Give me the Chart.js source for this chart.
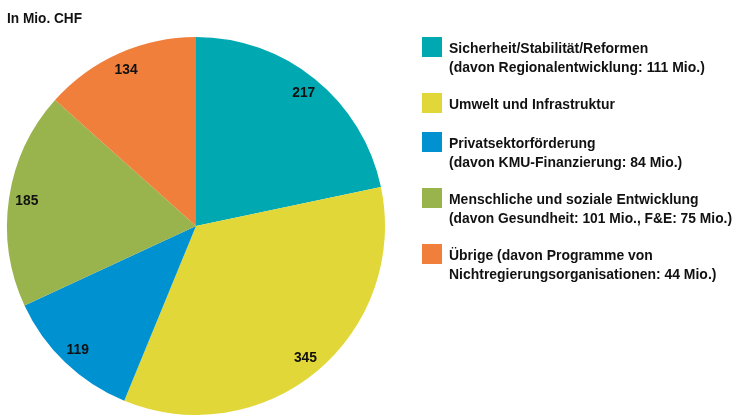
<!DOCTYPE html>
<html><head><meta charset="utf-8">
<script src="https://cdn.jsdelivr.net/npm/chart.js@4.4.1/dist/chart.umd.min.js"></script>
<style>
html,body{margin:0;padding:0;background:#fff;}
#wrap{position:relative;width:734px;height:415px;overflow:hidden;}
canvas{position:absolute;left:0;top:0;}
#title{position:absolute;left:7px;top:9px;font:bold 15px "Liberation Sans",sans-serif;color:#111;transform:scaleX(0.91);transform-origin:left top;white-space:nowrap;}
#legend{position:absolute;left:422px;top:37px;font:bold 15px "Liberation Sans",sans-serif;color:#111;}
.item{display:flex;align-items:flex-start;}
.sw{width:20px;height:20px;flex:none;margin-right:7px;}
.txt{line-height:19px;margin-top:1px;white-space:nowrap;}
.ln{display:block;transform-origin:left top;}
.ln span{display:inline-block;transform-origin:left top;}
</style></head>
<body><div id="wrap"><canvas id="c" width="734" height="415"></canvas><div id="title">In Mio. CHF</div><div id="legend"></div></div>
<script>
const categories = ["Sicherheit/Stabilität/Reformen","Umwelt und Infrastruktur","Privatsektorförderung","Menschliche und soziale Entwicklung","Übrige"];
const legendLines = [
  ["Sicherheit/Stabilität/Reformen","(davon Regionalentwicklung: 111 Mio.)"],
  ["Umwelt und Infrastruktur"],
  ["Privatsektorförderung","(davon KMU-Finanzierung: 84 Mio.)"],
  ["Menschliche und soziale Entwicklung","(davon Gesundheit: 101 Mio., F&E: 75 Mio.)"],
  ["Übrige (davon Programme von","Nichtregierungsorganisationen: 44 Mio.)"]
];
const values = [217, 345, 119, 185, 134];
const colors = ["#00A9B2","#E2D738","#0091D1","#99B34D","#F07F3C"];

const legend = document.getElementById('legend');
legendLines.forEach((lines,i)=>{
  const it = document.createElement('div'); it.className='item';
  it.style.marginBottom = lines.length>1 ? '17px' : '19px';
  const sw = document.createElement('div'); sw.className='sw'; sw.style.background=colors[i];
  const t = document.createElement('div'); t.className='txt';
  lines.forEach(s=>{
    const ln = document.createElement('div'); ln.className='ln';
    const sp = document.createElement('span'); sp.textContent = s;
    ln.appendChild(sp); t.appendChild(ln);
  });
  it.appendChild(sw); it.appendChild(t); legend.appendChild(it);
});
document.querySelectorAll('.ln span').forEach(sp=>{
  const w = sp.getBoundingClientRect().width;
  const s = Math.min(0.93, 283/w);
  sp.style.transform = 'scaleX('+s+')';
});

const valueLabels = {
  id:'valueLabels',
  afterDatasetsDraw(chart){
    const ctx = chart.ctx;
    const meta = chart.getDatasetMeta(0);
    meta.data.forEach((arc,i)=>{
      const a = (arc.startAngle+arc.endAngle)/2;
      const r = arc.outerRadius*0.905;
      ctx.save();
      ctx.font = 'bold 15px "Liberation Sans",sans-serif';
      ctx.fillStyle = '#111';
      ctx.textAlign='center'; ctx.textBaseline='middle';
      ctx.translate(arc.x+Math.cos(a)*r, arc.y+Math.sin(a)*r);
      ctx.scale(0.92,1);
      ctx.fillText(String(values[i]), 0, 0);
      ctx.restore();
    });
  }
};

new Chart(document.getElementById('c'), {
  type:'pie',
  data:{labels:categories, datasets:[{data:values, backgroundColor:colors, borderWidth:0}]},
  options:{
    responsive:false, animation:false,
    layout:{padding:{left:7,top:37,right:349,bottom:0}},
    plugins:{legend:{display:false}, tooltip:{enabled:false}}
  },
  plugins:[valueLabels]
});
</script></body></html>
